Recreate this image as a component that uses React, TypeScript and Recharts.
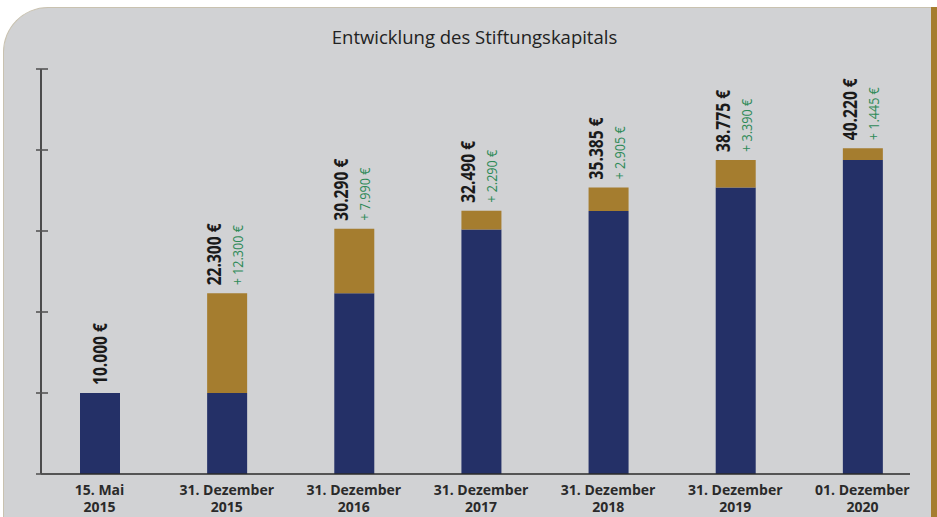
import { BarChart, Bar, XAxis, YAxis, LabelList } from 'recharts'

const DATES = [
  '15. Mai 2015',
  '31. Dezember 2015',
  '31. Dezember 2016',
  '31. Dezember 2017',
  '31. Dezember 2018',
  '31. Dezember 2019',
  '01. Dezember 2020',
]
const TOTALS = [10000, 22300, 30290, 32490, 35385, 38775, 40220]
const INCREASES = [0, 12300, 7990, 2290, 2905, 3390, 1445]
const Y_TICKS = [0, 10000, 20000, 30000, 40000, 50000]

const NAVY = '#243067'
const GOLD = '#a57d2f'
const GREEN = '#2f8a58'
const GRAY_BG = '#d1d2d4'
const FONT = "'Open Sans', sans-serif"

const data = DATES.map((d, i) => ({
  date: d,
  base: TOTALS[i] - INCREASES[i],
  increase: INCREASES[i],
  total: TOTALS[i],
}))

const fmt = (v: number) => String(v).replace(/\B(?=(\d{3})+(?!\d))/g, '.')

// label sits on the navy bar; the gold part's height is derived from the navy bar's px/unit
function ValueLabel(props: any) {
  const { x, y, width, height, value } = props
  const i = TOTALS.indexOf(value)
  if (i < 0) return null
  const base = TOTALS[i] - INCREASES[i]
  const inc = INCREASES[i]
  const cx = x + width / 2
  const top = y - (inc * height) / base - 8
  if (!inc) {
    return (
      <text transform={`translate(${cx + 7},${top}) rotate(-90) scale(0.78,1)`} fontFamily={FONT} fontWeight="bold" fontSize={20} fill="#1a1a1a">
        {fmt(TOTALS[i])} €
      </text>
    )
  }
  return (
    <g>
      <text transform={`translate(${cx - 6},${top}) rotate(-90) scale(0.78,1)`} fontFamily={FONT} fontWeight="bold" fontSize={20} fill="#1a1a1a">
        {fmt(TOTALS[i])} €
      </text>
      <text transform={`translate(${cx + 16},${top}) rotate(-90) scale(0.9,1)`} fontFamily={FONT} fontSize={14} fill={GREEN}>
        + {fmt(inc)} €
      </text>
    </g>
  )
}

function DateTick({ x, y, payload }: any) {
  const s: string = payload.value
  const cut = s.lastIndexOf(' ')
  return (
    <text textAnchor="middle" fontFamily={FONT} fontWeight="bold" fontSize={14} fill="#2a2a2a">
      <tspan x={x} y={y + 21}>{s.slice(0, cut)}</tspan>
      <tspan x={x} y={y + 38}>{s.slice(cut + 1)}</tspan>
    </text>
  )
}

function YTick({ x, y }: any) {
  return <line x1={x - 5} x2={x + 7} y1={y} y2={y} stroke="#555" strokeWidth={1.6} />
}

export default function App() {
  return (
    <div style={{ position: 'absolute', left: 0, top: 0, width: 937, height: 517, background: '#fff', overflow: 'hidden' }}>
      <div
        style={{
          position: 'absolute',
          left: 3,
          top: 7,
          width: 928,
          height: 520,
          background: GRAY_BG,
          borderTopLeftRadius: 45,
          borderTop: '1px solid #c9c2b0',
          borderLeft: '1px solid #c9c2b0',
          boxSizing: 'border-box',
        }}
      />
      <div style={{ position: 'absolute', left: 931, top: 7, width: 6, height: 520, background: GOLD }} />
      <div
        style={{
          position: 'absolute',
          left: 0,
          top: 24,
          width: 949,
          textAlign: 'center',
          fontFamily: FONT,
          fontSize: 18.5,
          color: '#222',
        }}
      >
        Entwicklung des Stiftungskapitals
      </div>
      <div style={{ position: 'absolute', left: 0, top: 0 }}>
        <BarChart width={937} height={517} data={data} margin={{ top: 69, right: 27, bottom: 0, left: 0 }} barSize={40}>
          <XAxis
            dataKey="date"
            height={43}
            padding={{ left: -5, right: -16 }}
            tickLine={false}
            tickSize={0}
            tickMargin={0}
            axisLine={{ stroke: '#2a2a2a', strokeWidth: 1.6 }}
            tick={<DateTick />}
            interval={0}
          />
          <YAxis
            width={41}
            domain={[0, 50000]}
            ticks={Y_TICKS}
            tickLine={false}
            tickSize={0}
            tickMargin={0}
            axisLine={{ stroke: '#2a2a2a', strokeWidth: 1.6 }}
            tick={<YTick />}
          />
          <Bar dataKey="base" stackId="a" fill={NAVY} isAnimationActive={false}>
            <LabelList dataKey="total" content={<ValueLabel />} />
          </Bar>
          <Bar dataKey="increase" stackId="a" fill={GOLD} isAnimationActive={false} />
        </BarChart>
      </div>
    </div>
  )
}
